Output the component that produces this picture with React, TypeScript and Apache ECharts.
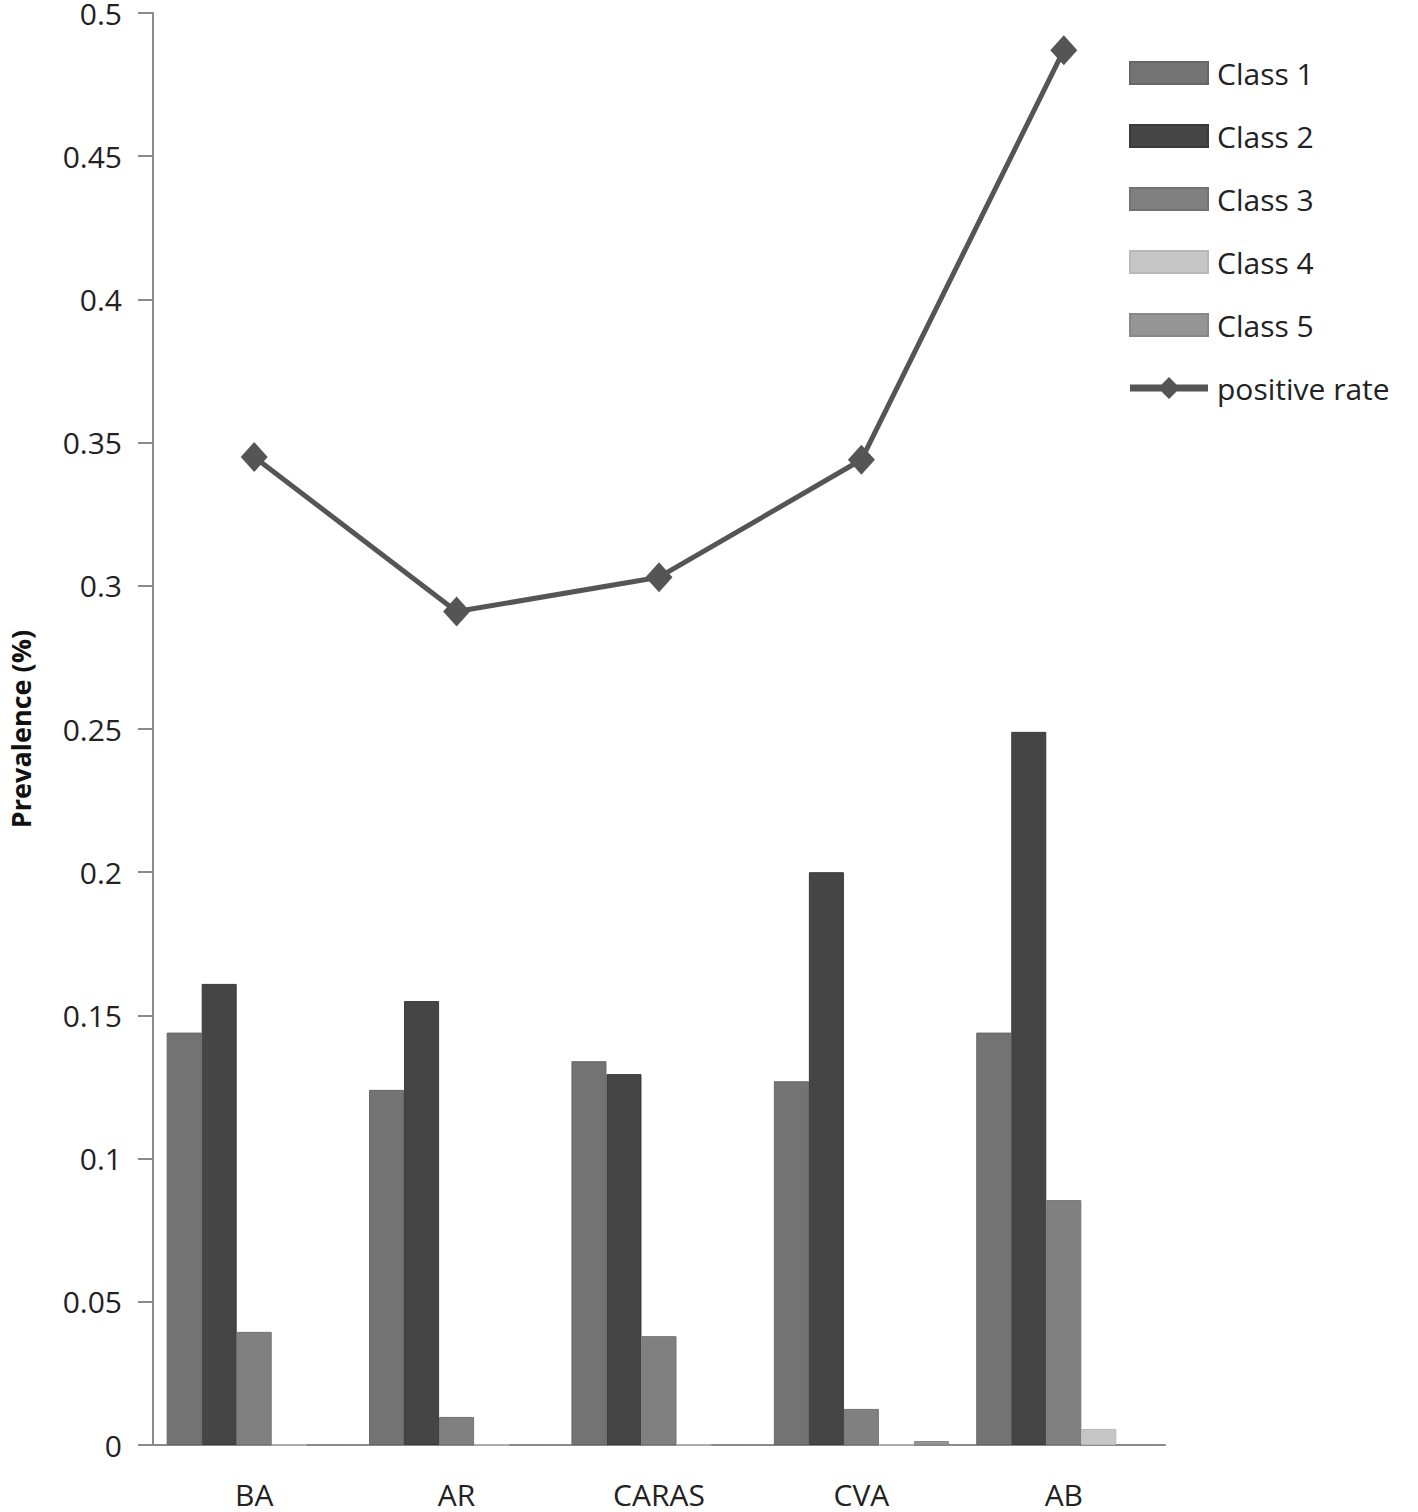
import React, { useEffect, useRef } from "react";
import * as echarts from "echarts";

const categories = ["BA", "AR", "CARAS", "CVA", "AB"];
const class1 = [0.144, 0.124, 0.134, 0.127, 0.144];
const class2 = [0.161, 0.155, 0.1295, 0.2, 0.249];
const class3 = [0.0395, 0.0098, 0.038, 0.0126, 0.0855];
const class4 = [0, 0, 0, 0, 0.0056];
const class5 = [0, 0, 0, 0.0014, 0];
const positiveRate = [0.345, 0.291, 0.303, 0.344, 0.487];

const FONT = "'Open Sans', 'Noto Sans', sans-serif";
const LINE_ICON = "path://M0,7.5L78,7.5L78,14.5L0,14.5Z M39,0L50,11L39,22L28,11Z";

export default function App() {
  const ref = useRef<HTMLDivElement>(null);
  useEffect(() => {
    if (!ref.current) return;
    const chart = echarts.init(ref.current, null, { renderer: "svg" });
    const barSeries = (name: string, data: number[], color: string, border: string) => ({
      name,
      type: "bar",
      data,
      barGap: "0%",
      barCategoryGap: "13.5%",
      itemStyle: { color, borderColor: border, borderWidth: 1 },
    });
    chart.setOption({
      animation: false,
      backgroundColor: "#ffffff",
      grid: {
        left: 153,
        top: 13,
        right: 253,
        bottom: 67,
        containLabel: false,
        outerBoundsMode: "none",
      },
      legend: {
        orient: "vertical",
        left: 1124,
        top: 53,
        itemWidth: 78,
        itemHeight: 22,
        itemGap: 33,
        symbolKeepAspect: false,
        textStyle: { fontFamily: FONT, fontSize: 30, color: "#222", padding: [0, 0, 0, 4] },
        data: [
          { name: "Class 1", icon: "rect" },
          { name: "Class 2", icon: "rect" },
          { name: "Class 3", icon: "rect" },
          { name: "Class 4", icon: "rect" },
          { name: "Class 5", icon: "rect" },
          { name: "positive rate", icon: LINE_ICON },
        ],
      },
      xAxis: {
        type: "category",
        data: categories,
        axisLine: { lineStyle: { color: "#8a8a8a", width: 2 } },
        axisTick: { show: false },
        axisLabel: { fontFamily: FONT, fontSize: 30, color: "#222", margin: 34 },
      },
      yAxis: {
        type: "value",
        min: 0,
        max: 0.5,
        interval: 0.05,
        name: "Prevalence (%)",
        nameLocation: "middle",
        nameGap: 119,
        nameTextStyle: { fontFamily: FONT, fontSize: 27, fontWeight: "bold", color: "#111" },
        axisLine: { show: true, lineStyle: { color: "#8a8a8a", width: 2 } },
        axisTick: { show: true, length: 15, lineStyle: { color: "#8a8a8a", width: 2 } },
        splitLine: { show: false },
        axisLabel: { fontFamily: FONT, fontSize: 30, color: "#222", margin: 31 },
      },
      series: [
        barSeries("Class 1", class1, "#737373", "#666666"),
        barSeries("Class 2", class2, "#454545", "#3a3a3a"),
        barSeries("Class 3", class3, "#808080", "#737373"),
        barSeries("Class 4", class4, "#c6c6c6", "#b8b8b8"),
        barSeries("Class 5", class5, "#959595", "#888888"),
        {
          name: "positive rate",
          type: "line",
          data: positiveRate,
          symbol: "diamond",
          symbolSize: [27, 30],
          lineStyle: { color: "#555555", width: 5 },
          itemStyle: { color: "#555555" },
        },
      ],
    });
    return () => chart.dispose();
  }, []);
  return (
    <div
      ref={ref}
      style={{ position: "absolute", left: 0, top: 0, width: 1418, height: 1512 }}
    />
  );
}
